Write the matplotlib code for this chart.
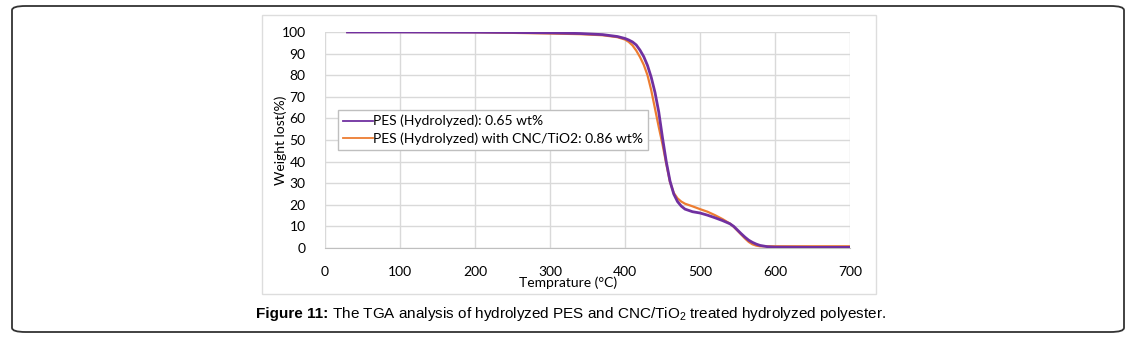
import matplotlib.pyplot as plt
from matplotlib.patches import FancyBboxPatch, Rectangle

# (temperature in C, weight in %)
temp_pes = [30, 100, 200, 250, 300, 340, 370, 390, 400, 405, 410, 415, 420, 425, 430, 435,
            440, 445, 450, 455, 460, 465, 470, 475, 480, 490, 500, 510, 520, 530, 540, 545,
            550, 555, 560, 565, 570, 575, 580, 590, 600, 650, 700]
wt_pes = [100, 100, 99.9, 99.8, 99.6, 99.3, 98.8, 97.9, 97.0, 96.3, 95.4, 94.0, 91.6, 88.6,
          84.5, 79.0, 72.0, 63.0, 51.0, 40.0, 31.0, 25.0, 21.5, 19.4, 18.0, 16.8, 16.2, 15.2,
          14.0, 12.7, 11.2, 10.0, 8.3, 6.6, 5.0, 3.6, 2.6, 1.8, 1.2, 0.6, 0.4, 0.3, 0.3]

temp_cnc = [30, 100, 200, 250, 300, 340, 370, 390, 400, 405, 410, 415, 420, 425, 430, 435,
            440, 445, 450, 455, 460, 465, 470, 475, 480, 490, 500, 510, 520, 530, 540, 545,
            550, 555, 560, 565, 570, 575, 580, 600, 650, 700]
wt_cnc = [100, 100, 99.9, 99.6, 99.3, 99.0, 98.5, 97.6, 96.5, 95.4, 93.8, 91.4, 88.4, 84.8,
          80.0, 73.0, 64.5, 56.0, 48.0, 39.0, 30.5, 25.5, 23.0, 21.5, 20.5, 19.3, 18.0, 16.8,
          15.2, 13.4, 11.3, 9.8, 8.0, 6.2, 4.4, 2.8, 1.7, 1.1, 0.8, 0.8, 0.8, 0.8]

label_pes = 'PES (Hydrolyzed): 0.65 wt%'
label_cnc = 'PES (Hydrolyzed) with CNC/TiO2: 0.86 wt%'

W, H = 1140, 346
plt.rcParams['font.family'] = ['Lato', 'DejaVu Sans']
plt.rcParams['mathtext.fontset'] = 'custom'
plt.rcParams['mathtext.rm'] = 'Liberation Sans'

fig = plt.figure(figsize=(W / 100, H / 100), dpi=100)

# outer frame and the inner image border
fig.patches.append(FancyBboxPatch((12 / W, 1 - 332 / H), 1112 / W, 326 / H,
                                  boxstyle='round,pad=0,rounding_size=0.012',
                                  transform=fig.transFigure, fill=False,
                                  edgecolor='#333333', linewidth=1.3))
fig.patches.append(Rectangle((262 / W, 1 - 294 / H), 614 / W, 279 / H,
                             transform=fig.transFigure, fill=False,
                             edgecolor='#dddddd', linewidth=1))

ax = fig.add_axes([325 / W, 1 - 248 / H, 525 / W, 216 / H])
ax.plot(temp_cnc, wt_cnc, color='#ED7D31', linewidth=1.6, label=label_cnc, zorder=3,
        solid_joinstyle='round')
ax.plot(temp_pes, wt_pes, color='#7030A0', linewidth=2.0, label=label_pes, zorder=4,
        solid_joinstyle='round')

ax.set_xlim(0, 700)
ax.set_ylim(0, 100)
ax.set_xticks(range(0, 701, 100))
ax.set_yticks(range(0, 101, 10))
ax.grid(True, color='#d9d9d9', linewidth=1)
ax.set_axisbelow(True)
for s in ['top', 'right', 'left']:
    ax.spines[s].set_visible(False)
ax.spines['bottom'].set_color('#bfbfbf')
ax.tick_params(length=0, labelsize=10, colors='black')
ax.tick_params(axis='x', pad=13)
ax.tick_params(axis='y', pad=14)

fig.text(568 / W, 1 - 283 / H, 'Temprature (°C)', ha='center', va='center', fontsize=10)
fig.text(281 / W, 1 - 140 / H, 'Weight lost(%)', ha='center', va='center',
         rotation=90, fontsize=10)

h, l = ax.get_legend_handles_labels()
leg = ax.legend(h[::-1], l[::-1], loc='upper left',
                bbox_to_anchor=(338 / W, 1 - 110 / H), bbox_transform=fig.transFigure,
                fontsize=10, frameon=True, fancybox=False, handlelength=2.2,
                handletextpad=0.0, borderaxespad=0, borderpad=0.35,
                labelspacing=0.35, framealpha=1)
leg.get_frame().set_edgecolor('#bfbfbf')
leg.get_frame().set_linewidth(1)
for line in leg.get_lines():
    line.set_linewidth(1.3)

# caption: bold lead-in, then the rest right after it
t1 = fig.text(256 / W, 1 - 314 / H, 'Figure 11:', ha='left', va='center',
              fontsize=11, fontweight='bold', family='Liberation Sans')
fig.add_artist(plt.Annotation(
    ' The TGA analysis of hydrolyzed PES and CNC/TiO$_2$ treated hydrolyzed polyester.',
    xy=(1, 0.5), xycoords=t1, ha='left', va='center', fontsize=11,
    family='Liberation Sans'))

fig.savefig('out.png', dpi=100)
